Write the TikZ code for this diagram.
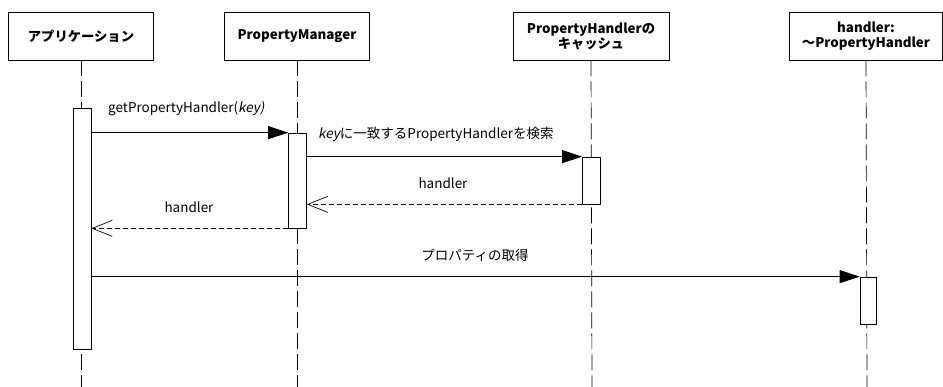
\documentclass[tikz,border=0pt]{standalone}
\usepackage{fontspec}
\setmainfont{Noto Sans CJK JP}
\newfontfamily\jpit[FakeSlant=0.2]{Noto Sans CJK JP}
\usetikzlibrary{arrows.meta}
\begin{document}
\begin{tikzpicture}[x=1pt,y=-1pt,
  obj/.style={draw,line width=0.8pt,fill=white,minimum width=145pt,minimum height=48pt,align=center,font=\fontsize{13.3}{15}\selectfont\bfseries,inner sep=1pt},
  act/.style={draw,line width=0.7pt,fill=white,minimum width=18pt,inner sep=0pt},
  life/.style={line width=0.7pt,dash pattern=on 16pt off 5pt},
  call/.style={line width=0.8pt,-{Triangle[length=20pt,width=13pt]}},
  ret/.style={line width=0.7pt,dash pattern=on 5pt off 3pt,-{Straight Barb[length=20pt,width=16pt,line width=0.7pt]}},
  msg/.style={font=\fontsize{13.5}{15}\selectfont,inner sep=0pt}]
\useasboundingbox (0,0) rectangle (943,387);
% objects
\node[obj] (o1) at (81,36) {アプリケーション};
\node[obj] (o2) at (297,36) {PropertyManager};
\node[obj,minimum width=156pt] (o3) at (591,36) {PropertyHandlerの\\キャッシュ};
\node[obj,minimum width=153pt] (o4) at (866,36) {handler:\\～PropertyHandler};
% lifeline ends
\coordinate (e1) at (81,387);
\coordinate (e2) at (297,387);
\coordinate (e3) at (592,387);
\coordinate (e4) at (867,387);
\draw[life] (o1.south) -- (e1);
\draw[life] (o2.south) -- (e2);
\draw[life] (o3.south) -- (e3);
\draw[life] (o4.south) -- (e4);
% activations
\node[act,minimum height=241pt] (a1) at (82,228.5) {};
\node[act,minimum height=95pt] (a2) at (297.5,180.5) {};
\node[act,minimum height=47pt] (a3) at (591.5,180.5) {};
\node[act,minimum width=16pt,minimum height=47pt] (a4) at (868,300.5) {};
% messages
\draw[call] (a1.east |- a2.north west) -- (a2.north west);
\node[msg,anchor=west] (m1) at (108,109) {getPropertyHandler(\jpit key)};
\draw[call] (a2.east |- a3.north west) -- (a3.north west);
\node[msg,anchor=west] (m2) at (318,134) {{\jpit key}に一致するPropertyHandlerを検索};
\draw[ret] (a3.south west) -- (a2.east |- a3.south west);
\node[msg] (m3) at (443,183) {handler};
\draw[ret] (a2.south west) -- (a1.east |- a2.south west);
\node[msg] (m4) at (189,207) {handler};
\draw[call] (a1.east |- a4.north west) -- (a4.north west);
\node[msg] (m5) at (475,255) {プロパティの取得};
\end{tikzpicture}
\end{document}
